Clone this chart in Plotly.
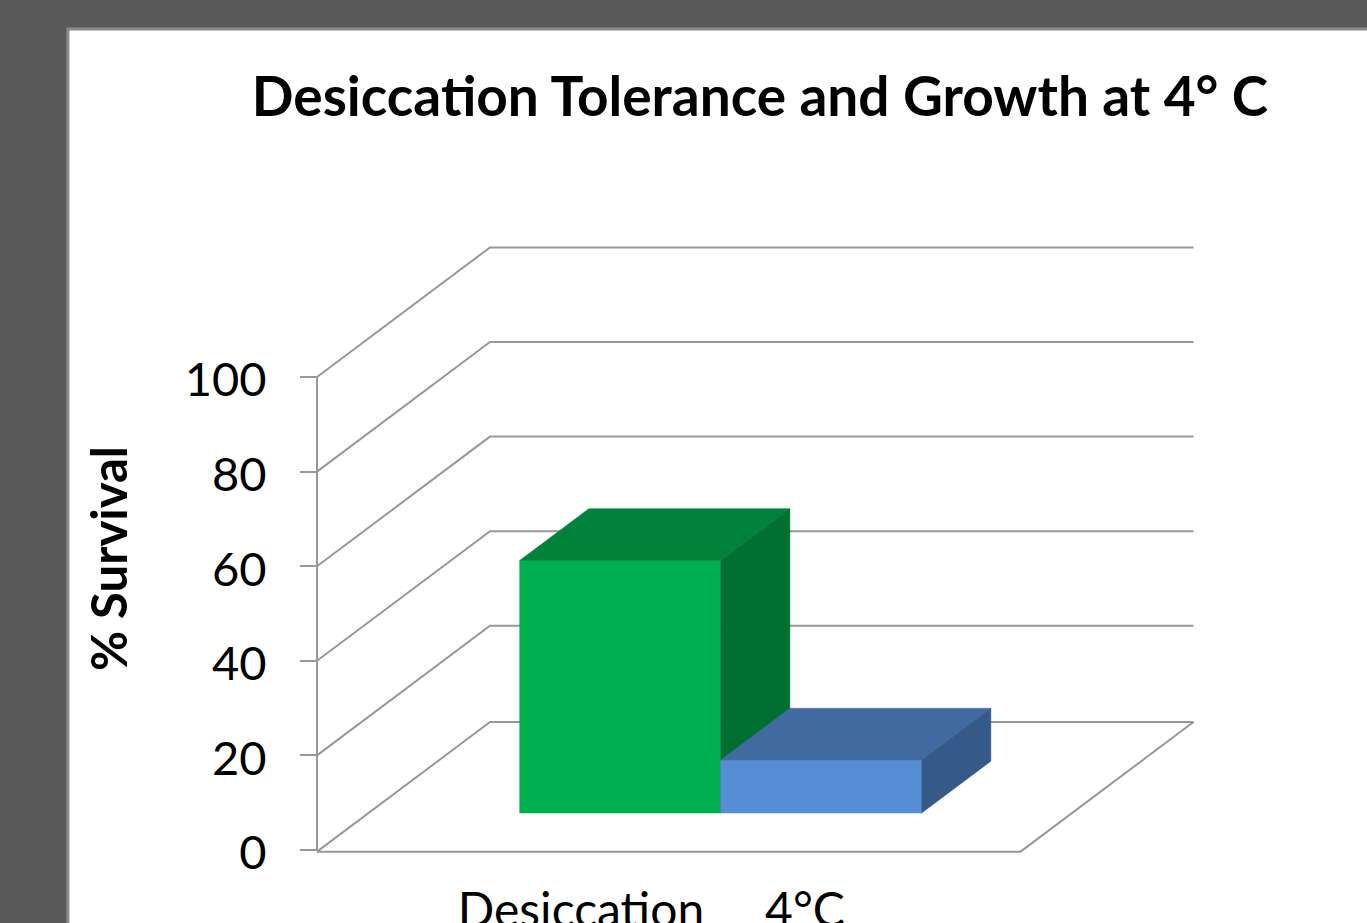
import plotly.graph_objects as go

# Chart data
categories = ["Desiccation", "4°C"]
survival = [53.4, 11.2]
y_ticks = [0, 20, 40, 60, 80, 100]

# Face colours per bar: front, top, side
bar_front = ["#00B050", "#558ED5"]
bar_top = ["#00823B", "#416BA0"]
bar_side = ["#006F31", "#355A87"]

# Figure and scale set-up
WIDTH, HEIGHT = 1367, 923
PX_PER_X = 201.0      # one bar width
PX_PER_Y = 4.73       # one percent
ORIGIN_X, ORIGIN_Y = 317, 850
FLOOR_WIDTH = 3.5
DEPTH_DX = 173 / PX_PER_X
DEPTH_DY = 27.4
BAR_START = 0.763
BAR_DEPTH_NEAR = 0.285
BAR_DEPTH_FAR = 0.685
FLOOR_DROP = 0.35
GRID = "#989898"
FONT = "Lato"


def project(x, y, depth=0.0):
    """Oblique projection: depth runs up and to the right."""
    return x + depth * DEPTH_DX, y + depth * DEPTH_DY


def polyline(points):
    xs, ys = zip(*[project(*p) for p in points])
    return list(xs), list(ys)


fig = go.Figure()


def add_line(points):
    xs, ys = polyline(points)
    fig.add_trace(go.Scatter(x=xs, y=ys, mode="lines", hoverinfo="skip",
                             line=dict(color=GRID, width=2)))


def add_face(points, colour, name):
    xs, ys = polyline(points + points[:1])
    fig.add_trace(go.Scatter(x=xs, y=ys, mode="lines", fill="toself", name=name,
                             fillcolor=colour, line=dict(color=colour, width=0.5)))


# Side wall and back wall gridlines
add_line([(0, 0), (0, max(y_ticks))])
for tick in y_ticks[1:]:
    add_line([(0, tick), (0, tick, 1), (FLOOR_WIDTH, tick, 1)])

# Floor outline
add_line([(0, -FLOOR_DROP), (FLOOR_WIDTH, -FLOOR_DROP),
          (FLOOR_WIDTH, -FLOOR_DROP, 1), (0, -FLOOR_DROP, 1), (0, -FLOOR_DROP)])

# Bars, drawn left to right so each one sits over its neighbour's side face
for i, (label, value) in enumerate(zip(categories, survival)):
    x0 = BAR_START + i
    x1 = x0 + 1
    near, far = BAR_DEPTH_NEAR, BAR_DEPTH_FAR
    add_face([(x0, 0, near), (x1, 0, near), (x1, value, near), (x0, value, near)],
             bar_front[i], label)
    add_face([(x0, value, near), (x1, value, near), (x1, value, far), (x0, value, far)],
             bar_top[i], label)
    add_face([(x1, 0, near), (x1, 0, far), (x1, value, far), (x1, value, near)],
             bar_side[i], label)

fig.update_layout(
    width=WIDTH,
    height=HEIGHT,
    margin=dict(l=0, r=0, t=0, b=0),
    paper_bgcolor="#595959",
    plot_bgcolor="rgba(0,0,0,0)",
    showlegend=False,
    font=dict(family=FONT, color="#000000"),
    title=dict(text="<b>Desiccation Tolerance and Growth at 4° C</b>",
               font=dict(family=FONT, size=55, color="#000000"),
               x=760 / WIDTH, xanchor="center",
               y=1 - 97 / HEIGHT, yanchor="middle"),
    xaxis=dict(
        range=[-ORIGIN_X / PX_PER_X, (WIDTH - ORIGIN_X) / PX_PER_X],
        domain=[0, 1],
        anchor="free",
        position=1 - 878 / HEIGHT,
        side="bottom",
        tickmode="array",
        tickvals=[(581 - ORIGIN_X) / PX_PER_X, (805 - ORIGIN_X) / PX_PER_X],
        ticktext=categories,
        tickfont=dict(family=FONT, size=48, color="#000000"),
        ticks="",
        showline=False,
        showgrid=False,
        zeroline=False,
        automargin=False,
    ),
    yaxis=dict(
        range=[(ORIGIN_Y - HEIGHT) / PX_PER_Y, ORIGIN_Y / PX_PER_Y],
        domain=[0, 1],
        anchor="free",
        position=ORIGIN_X / WIDTH,
        side="left",
        tickmode="array",
        tickvals=y_ticks,
        tickfont=dict(family=FONT, size=47, color="#000000"),
        ticks="outside",
        ticklen=17,
        tickwidth=2,
        tickcolor=GRID,
        ticklabelstandoff=24,
        ticklabelshift=3,
        showline=False,
        showgrid=False,
        zeroline=False,
        automargin=False,
    ),
    shapes=[dict(type="rect", xref="paper", yref="paper", layer="below",
                 x0=68 / WIDTH, x1=1.01, y0=-0.01, y1=1 - 29 / HEIGHT,
                 fillcolor="#FFFFFF", line=dict(color="#8C8C8C", width=3))],
    annotations=[dict(text="<b>% Survival</b>", textangle=-90, showarrow=False,
                      xref="paper", yref="paper",
                      x=108 / WIDTH, y=1 - 559 / HEIGHT,
                      xanchor="center", yanchor="middle",
                      font=dict(family=FONT, size=49, color="#000000"))],
)

fig.write_html("out.html", config={"displayModeBar": False})
